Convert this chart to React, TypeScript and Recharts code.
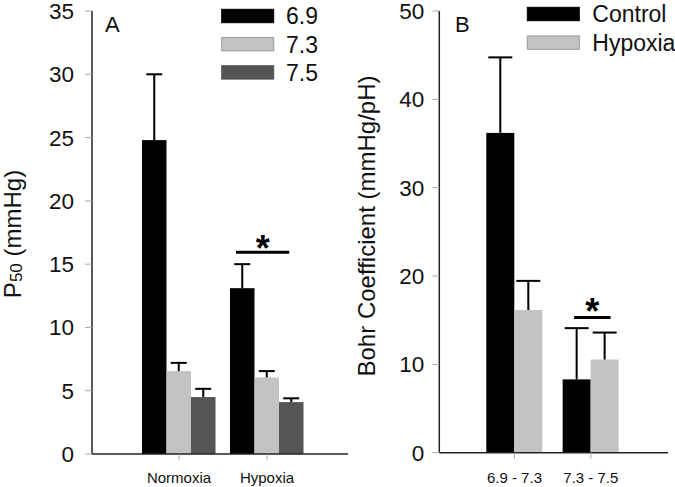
import React from 'react';
import { BarChart, Bar, XAxis, YAxis, Customized } from 'recharts';

const FONT = '"Liberation Sans", Arial, Helvetica, sans-serif';

// Panel A: P50 at three pH levels
const conditions = ['Normoxia', 'Hypoxia'];
const phLevels = ['6.9', '7.3', '7.5'];
const p50At69 = [24.8, 13.1];
const p50At73 = [6.55, 6.05];
const p50At75 = [4.5, 4.1];
const errAt69 = [5.2, 1.9];
const errAt73 = [0.65, 0.5];
const errAt75 = [0.65, 0.3];
const p50Ticks = [0, 5, 10, 15, 20, 25, 30, 35];

// Panel B: Bohr coefficient per pH range
const phRanges = ['6.9 - 7.3', '7.3 - 7.5'];
const groups = ['Control', 'Hypoxia'];
const bohrControl = [36.2, 8.3];
const bohrHypoxia = [16.15, 10.55];
const errControl = [8.55, 5.8];
const errHypoxia = [3.3, 3.05];
const bohrTicks = [0, 10, 20, 30, 40, 50];

const colorsA = ['#000000', '#c3c3c3', '#555555'];
const colorsB = ['#000000', '#c3c3c3'];

const dataA = conditions.map((name, i) => ({
  name,
  v69: p50At69[i],
  v73: p50At73[i],
  v75: p50At75[i],
  e69: errAt69[i],
  e73: errAt73[i],
  e75: errAt75[i],
}));

const dataB = phRanges.map((name, i) => ({
  name,
  ctrl: bohrControl[i],
  hyp: bohrHypoxia[i],
  eCtrl: errControl[i],
  eHyp: errHypoxia[i],
}));

// bar with an upward-only error bar; pixel scale taken from the bar itself
function BarWithError(props: any) {
  const { x, y, width, height, fill, payload, valueKey, errKey, capHalf } = props;
  const value = payload[valueKey];
  const ppu = value ? height / value : 0;
  const cx = x + width / 2;
  const top = y - payload[errKey] * ppu;
  return (
    <g>
      <rect x={x} y={y} width={width} height={height} fill={fill} />
      <line x1={cx} y1={y} x2={cx} y2={top} stroke="#000" strokeWidth={2} />
      <line x1={cx - capHalf} y1={top} x2={cx + capHalf} y2={top} stroke="#000" strokeWidth={2} />
    </g>
  );
}

// significance bar + asterisk drawn above a given bar
const sigLabel = (opts: { index: number; level: number; star: number; from: number; to: number }) =>
  (props: any) => {
    const { x, y, width, height, value, index } = props;
    if (index !== opts.index) return null;
    const ppu = height / value;
    const base = y + height;
    const ly = base - opts.level * ppu;
    const sy = base - opts.star * ppu;
    const fs = 36;
    return (
      <g>
        <line x1={x + opts.from * width} x2={x + opts.to * width} y1={ly} y2={ly} stroke="#000" strokeWidth={3} />
        <text
          x={x + ((opts.from + opts.to) / 2) * width}
          y={sy + 0.57 * fs}
          textAnchor="middle"
          fontSize={fs}
          fontWeight="bold"
          fontFamily={FONT}
          fill="#000"
        >
          *
        </text>
      </g>
    );
  };

function LegendBox({ names, colors, x, top, step, textX }: any) {
  return (
    <g>
      {names.map((n: string, i: number) => {
        const ry = top + i * step;
        return (
          <g key={n}>
            <rect
              x={x}
              y={ry}
              width={52}
              height={13.4}
              fill={colors[i]}
              stroke={colors[i] === '#c3c3c3' ? '#9a9a9a' : colors[i]}
            />
            <text x={textX} y={ry + 6.7 + 8.3} fontSize={23} fontFamily={FONT} fill="#111">
              {n}
            </text>
          </g>
        );
      })}
    </g>
  );
}

function DecorA() {
  return (
    <g>
      <text x={105} y={31.5} fontSize={22} fontFamily={FONT} fill="#111">A</text>
      <LegendBox names={phLevels} colors={colorsA} x={221.7} top={9.3} step={28.2} textX={286} />
      <text
        x={21}
        y={234}
        transform="rotate(-90, 21, 234)"
        textAnchor="middle"
        fontSize={24}
        fontFamily={FONT}
        fill="#111"
      >
        P<tspan fontSize={17} dy={1}>50</tspan>
        <tspan dy={-1}> (mmHg)</tspan>
      </text>
    </g>
  );
}

function DecorB() {
  return (
    <g>
      <text x={115} y={31.5} fontSize={22} fontFamily={FONT} fill="#111">B</text>
      <LegendBox names={groups} colors={colorsB} x={187.3} top={7.3} step={28.6} textX={252.3} />
      <text
        x={35}
        y={226}
        transform="rotate(-90, 35, 226)"
        textAnchor="middle"
        fontSize={24}
        fontFamily={FONT}
        fill="#111"
      >
        Bohr Coefficient (mmHg/pH)
      </text>
    </g>
  );
}

const axisLine = { stroke: '#222', strokeWidth: 1.5 };
const tickLine = { stroke: '#aaa' };

export default function App() {
  return (
    <div style={{ position: 'absolute', left: 0, top: 0, width: 675, height: 487, background: '#fff' }}>
      <div style={{ position: 'absolute', left: 0, top: 0 }}>
        <BarChart width={348} height={487} data={dataA} margin={{ top: 11, right: 0, bottom: 0, left: 0 }} barGap={0}>
          <XAxis
            dataKey="name"
            height={33}
            padding={{ left: 43, right: 37 }}
            axisLine={axisLine}
            tickLine={tickLine}
            tickSize={6}
            tickMargin={12}
            tick={{ fontSize: 15, fill: '#111', fontFamily: FONT }}
          />
          <YAxis
            width={92}
            domain={[0, 35]}
            ticks={p50Ticks}
            interval={0}
            axisLine={axisLine}
            tickLine={tickLine}
            tickSize={7}
            tickMargin={11}
            tick={{ fontSize: 22.5, fill: '#111', fontFamily: FONT }}
          />
          <Bar
            dataKey="v69"
            fill={colorsA[0]}
            barSize={24.5}
            isAnimationActive={false}
            shape={(p: any) => <BarWithError {...p} valueKey="v69" errKey="e69" capHalf={8} />}
            label={sigLabel({ index: 1, level: 15.93, star: 16.9, from: 0.245, to: 2.42 })}
          />
          <Bar
            dataKey="v73"
            fill={colorsA[1]}
            barSize={24.5}
            isAnimationActive={false}
            shape={(p: any) => <BarWithError {...p} valueKey="v73" errKey="e73" capHalf={8} />}
          />
          <Bar
            dataKey="v75"
            fill={colorsA[2]}
            barSize={24.5}
            isAnimationActive={false}
            shape={(p: any) => <BarWithError {...p} valueKey="v75" errKey="e75" capHalf={8} />}
          />
          <Customized component={<DecorA />} />
        </BarChart>
      </div>
      <div style={{ position: 'absolute', left: 340, top: 0 }}>
        <BarChart width={335} height={487} data={dataB} margin={{ top: 11, right: 7, bottom: 0, left: 0 }} barGap={0}>
          <XAxis
            dataKey="name"
            height={34.3}
            padding={{ left: 37, right: 39 }}
            axisLine={axisLine}
            tickLine={tickLine}
            tickSize={6}
            tickMargin={14}
            tick={{ fontSize: 15, fill: '#111', fontFamily: FONT }}
          />
          <YAxis
            width={99.3}
            domain={[0, 50]}
            ticks={bohrTicks}
            interval={0}
            axisLine={axisLine}
            tickLine={tickLine}
            tickSize={7}
            tickMargin={8}
            tick={{ fontSize: 22.5, fill: '#111', fontFamily: FONT }}
          />
          <Bar
            dataKey="ctrl"
            fill={colorsB[0]}
            barSize={28}
            isAnimationActive={false}
            shape={(p: any) => <BarWithError {...p} valueKey="ctrl" errKey="eCtrl" capHalf={12} />}
            label={sigLabel({ index: 1, level: 15.3, star: 16.9, from: 0.41, to: 1.71 })}
          />
          <Bar
            dataKey="hyp"
            fill={colorsB[1]}
            barSize={28}
            isAnimationActive={false}
            shape={(p: any) => <BarWithError {...p} valueKey="hyp" errKey="eHyp" capHalf={12} />}
          />
          <Customized component={<DecorB />} />
        </BarChart>
      </div>
    </div>
  );
}
